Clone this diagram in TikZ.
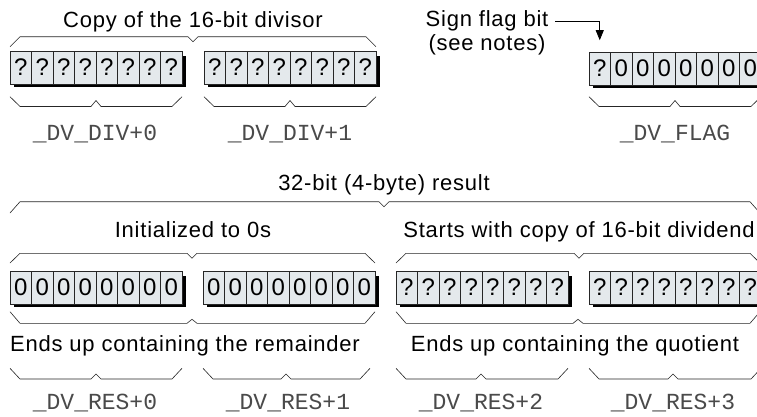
\documentclass[tikz,border=0pt]{standalone}
\usepackage{fontspec}
\setmainfont{Liberation Sans}
\newfontfamily\txtfont[LetterSpace=3.5]{Liberation Sans}
\newfontfamily\monofnt{Liberation Mono}
\usetikzlibrary{arrows.meta}
\definecolor{cellfill}{HTML}{E4E9EC}
\definecolor{labgray}{HTML}{4A4A4A}
\tikzset{
 cell/.style={draw=black!85, fill=cellfill, line width=0.6pt, minimum width=21.5pt, minimum height=33pt, inner sep=0pt, font=\fontsize{24}{26}\selectfont},
 txt/.style={anchor=base, inner sep=0pt, font=\txtfont\fontsize{22}{24}\selectfont},
 lab/.style={anchor=base, inner sep=0pt, text=labgray, font=\monofnt\fontsize{23}{24}\selectfont},
 bracel/.style={draw=black!85, line width=0.6pt},
 arr/.style={draw=black, line width=0.8pt, -{Triangle[width=8pt,length=10pt]}},
}
% x1, x2, xm, yend, ymain, ytip
\newcommand\brc[6]{\draw[bracel] (#1,#4) -- ({#1+10},#5) -- ({#3-5},#5) -- (#3,#6) -- ({#3+5},#5) -- ({#2-10},#5) -- (#2,#4);}
% name, x, top, digits
\newcommand\drawbyte[4]{%
 \fill[black] ({#2+4},{#3+5}) rectangle ({#2+175.5},{#3+36});
 \foreach \d [count=\i] in {#4} {
  \node[cell] (#1-\i) at ({#2+(\i-0.5)*21.5},{#3+16.5}) {\d};
 }
}
\begin{document}
\begin{tikzpicture}[x=1pt,y=-1pt]
\useasboundingbox (0,0) rectangle (757,416);
\clip (0,0) rectangle (757,416);
\fill[white] (0,0) rectangle (757,416);

% ---- top section
\node[txt] (divtitle) at (193,27) {Copy of the 16-bit divisor};
\brc{10}{376}{193}{46.7}{36.7}{41.7}
\drawbyte{div0}{10}{51}{?,?,?,?,?,?,?,?}
\drawbyte{div1}{204}{51}{?,?,?,?,?,?,?,?}
\brc{10}{182}{96}{96.7}{106.5}{100.5}
\brc{204}{376}{290}{96.7}{106.5}{100.5}
\node[lab] (ldiv0) at (95,140) {\_DV\_DIV+0};
\node[lab] (ldiv1) at (290,140) {\_DV\_DIV+1};

\node[txt] (sign) at (487,26.5) {Sign flag bit};
\node[txt] (notes) at (487,50) {(see notes)};
\drawbyte{flag}{589}{52}{?,0,0,0,0,0,0,0}
\coordinate (signend) at (555,21);
\draw[arr, shorten >=11.5pt] (signend) -| (flag-1.north);
\brc{589}{761}{675}{96.7}{106.5}{100.5}
\node[lab] (lflag) at (675,140) {\_DV\_FLAG};

% ---- result section
\node[txt] (restitle) at (384,190) {32-bit (4-byte) result};
\brc{10}{760}{384}{213}{201.7}{206.7}
\node[txt] (init) at (193,237) {Initialized to 0s};
\node[txt] (starts) at (579,237) {Starts with copy of 16-bit dividend};
\brc{10}{375}{192}{263}{253.3}{258.3}
\brc{396}{760}{579}{263}{253.3}{258.3}
\drawbyte{res0}{10}{271}{0,0,0,0,0,0,0,0}
\drawbyte{res1}{203}{271}{0,0,0,0,0,0,0,0}
\drawbyte{res2}{396}{271}{?,?,?,?,?,?,?,?}
\drawbyte{res3}{589}{271}{?,?,?,?,?,?,?,?}
\brc{10}{375}{192}{311.7}{323.3}{319.3}
\brc{396}{760}{578}{311.7}{323.3}{319.3}
\node[txt] (rem) at (185,351) {Ends up containing the remainder};
\node[txt] (quot) at (575,351) {Ends up containing the quotient};
\brc{10}{182}{96}{368.3}{379}{374}
\brc{203}{370}{286}{368.3}{379}{374}
\brc{396}{568}{481}{368.3}{379}{374}
\brc{589}{761}{673}{368.3}{379}{374}
\node[lab] (lres0) at (95,409) {\_DV\_RES+0};
\node[lab] (lres1) at (288,409) {\_DV\_RES+1};
\node[lab] (lres2) at (481,409) {\_DV\_RES+2};
\node[lab] (lres3) at (673,409) {\_DV\_RES+3};
\end{tikzpicture}
\end{document}
